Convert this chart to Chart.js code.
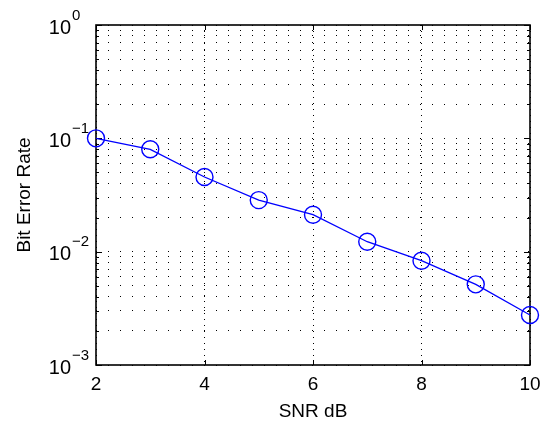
<!DOCTYPE html>
<html><head><meta charset="utf-8">
<script src="https://cdn.jsdelivr.net/npm/chart.js@4"></script>
<style>html,body{margin:0;padding:0;background:#fff}#wrap{width:542px;height:426px}</style>
</head><body><div id="wrap"><canvas id="c" width="542" height="426"></canvas></div>
<script>
const snrDb = [2, 3, 4, 5, 6, 7, 8, 9, 10];
const bitErrorRate = [0.1, 0.080, 0.0456, 0.0285, 0.0212, 0.01224, 0.00832, 0.00515, 0.00276];
const xTicks = [2, 4, 6, 8, 10];
const yDecades = [0.001, 0.01, 0.1, 1];
const yDecadeExponents = ['\u22123', '\u22122', '\u22121', '0'];
const yMinorMultipliers = [2, 3, 4, 5, 6, 7, 8, 9];
const xTitle = 'SNR dB';
const yTitle = 'Bit Error Rate';

const FONT = 'Liberation Sans, Arial, Helvetica, sans-serif';

function yTickList() {
  const t = [];
  yDecades.forEach((d, i) => {
    t.push({ value: d, major: true });
    if (i < yDecades.length - 1) yMinorMultipliers.forEach(m => t.push({ value: d * m }));
  });
  return t;
}

const framePlugin = {
  id: 'frame',
  beforeDatasetsDraw(chart) {
    const { ctx, chartArea: a, scales: { x, y } } = chart;
    ctx.save();
    ctx.strokeStyle = '#000';
    ctx.lineWidth = 1;
    ctx.setLineDash([]);
    ctx.beginPath();
    xTicks.forEach(v => {
      const px = Math.round(x.getPixelForValue(v)) + 0.5;
      ctx.moveTo(px, a.bottom); ctx.lineTo(px, a.bottom - 5);
      ctx.moveTo(px, a.top); ctx.lineTo(px, a.top + 5);
    });
    yTickList().forEach(t => {
      const py = Math.round(y.getPixelForValue(t.value)) + 0.5;
      const len = t.major ? 6 : 3;
      ctx.moveTo(a.left, py); ctx.lineTo(a.left + len, py);
      ctx.moveTo(a.right, py); ctx.lineTo(a.right - len, py);
    });
    ctx.stroke();
    ctx.lineWidth = 1.6;
    ctx.strokeRect(a.left, a.top, a.right - a.left, a.bottom - a.top);
    ctx.restore();
  },
  afterDraw(chart) {
    const { ctx, scales: { y } } = chart;
    ctx.save();
    ctx.fillStyle = '#000';
    ctx.textBaseline = 'alphabetic';
    yDecades.forEach((d, i) => {
      const py = y.getPixelForValue(d);
      ctx.font = '20px ' + FONT;
      ctx.textAlign = 'right';
      ctx.fillText('10', 71, py + 8.5);
      ctx.font = '15px ' + FONT;
      ctx.textAlign = 'left';
      ctx.fillText(yDecadeExponents[i], 72, py - 5.5);
    });
    ctx.restore();
  }
};

new Chart(document.getElementById('c'), {
  type: 'line',
  data: {
    datasets: [{
      data: snrDb.map((s, i) => ({ x: s, y: bitErrorRate[i] })),
      borderColor: '#0000ff',
      borderWidth: 1.3,
      backgroundColor: 'rgba(0,0,0,0)',
      pointStyle: 'circle',
      pointRadius: 8.5,
      pointBorderWidth: 1.4,
      pointBorderColor: '#0000ff',
      pointBackgroundColor: 'rgba(0,0,0,0)',
      tension: 0,
      clip: false
    }]
  },
  options: {
    responsive: false,
    devicePixelRatio: 1,
    animation: false,
    layout: { padding: { left: 0, right: 12, top: 25, bottom: 0 } },
    plugins: { legend: { display: false }, tooltip: { enabled: false } },
    scales: {
      x: {
        type: 'linear', min: 2, max: 10,
        afterBuildTicks: s => { s.ticks = xTicks.map(v => ({ value: v })); },
        afterFit: s => { s.height = 61; s.paddingLeft = 0; s.paddingRight = 0; },
        grid: { color: '#000', lineWidth: 1, drawTicks: false },
        border: { display: false, dash: [1, 5] },
        ticks: { color: '#000', padding: 8, font: { family: FONT, size: 19 }, maxRotation: 0 },
        title: { display: true, text: xTitle, color: '#000', font: { family: FONT, size: 19 }, padding: { top: 0, bottom: 3 } }
      },
      y: {
        type: 'logarithmic', min: 0.001, max: 1,
        afterBuildTicks: s => { s.ticks = yTickList(); },
        afterFit: s => { s.width = 96; s.paddingTop = 0; s.paddingBottom = 0; },
        grid: { color: '#000', lineWidth: 1, drawTicks: false },
        border: { display: false, dash: [1, 11] },
        ticks: { display: false },
        title: { display: true, text: yTitle, color: '#000', font: { family: FONT, size: 19 }, padding: { top: 13, bottom: 13 } }
      }
    }
  },
  plugins: [framePlugin]
});
</script>
</body></html>
